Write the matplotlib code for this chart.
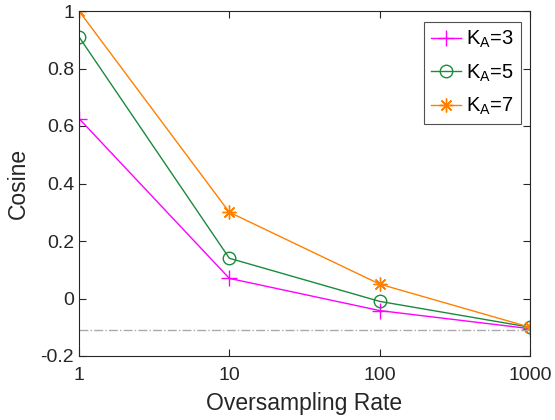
import matplotlib
matplotlib.use("Agg")
import matplotlib.pyplot as plt

plt.rcParams['font.family'] = ['Liberation Sans', 'DejaVu Sans']
plt.rcParams['mathtext.fontset'] = 'custom'
plt.rcParams['mathtext.rm'] = 'Liberation Sans'
plt.rcParams['mathtext.it'] = 'Liberation Sans'

rate = [1, 10, 100, 1000]
ka3 = [0.626, 0.07, -0.042, -0.105]
ka5 = [0.91, 0.14, -0.01, -0.10]
ka7 = [1.0, 0.30, 0.05, -0.10]
floor_val = -0.11

fig = plt.figure(figsize=(5.55, 4.2), dpi=100)
ax = fig.add_axes([79/555, 1-356/420, (530-79)/555, (356-11)/420])

ax.plot(rate, ka3, color='#ff00ff', marker='+', ms=11, mew=1, lw=1, label=r'K$_\mathrm{A}$=3')
ax.plot(rate, ka5, color='#1a8a3c', marker='o', ms=9, mfc='none', mew=1, lw=1, label=r'K$_\mathrm{A}$=5')
ax.plot(rate, ka7, color='#ff8000', marker=(8, 2, 0), ms=10, mew=1, lw=1, label=r'K$_\mathrm{A}$=7')
ax.axhline(floor_val, color='#aaaaaa', ls='-.', lw=1)

ax.set_xscale('log')
ax.set_xlim(1, 1000)
ax.set_ylim(-0.2, 1)
ax.set_xticks(rate)
ax.set_xticklabels(['1', '10', '100', '1000'])
ax.set_yticks([-0.2, 0, 0.2, 0.4, 0.6, 0.8, 1])
ax.set_yticklabels(['-0.2', '0', '0.2', '0.4', '0.6', '0.8', '1'])
ax.minorticks_off()
ax.tick_params(direction='in', top=True, right=True, labelsize=14, colors='#262626', length=5)
ax.tick_params(axis='x', pad=8)
for s in ax.spines.values():
    s.set_color('#262626')
    s.set_linewidth(0.8)
ax.set_xlabel('Oversampling Rate', fontsize=16.5, color='#262626', labelpad=6)
ax.set_ylabel('Cosine', fontsize=16.5, color='#262626', labelpad=8)

leg = ax.legend(loc='upper right', fontsize=14.5, fancybox=False, edgecolor='#262626',
                handlelength=1.5, borderpad=0.35, labelspacing=0.6, handletextpad=0.25,
                borderaxespad=0, bbox_to_anchor=(0.98, 0.968))
leg.get_frame().set_linewidth(0.8)

fig.savefig('out.png')
